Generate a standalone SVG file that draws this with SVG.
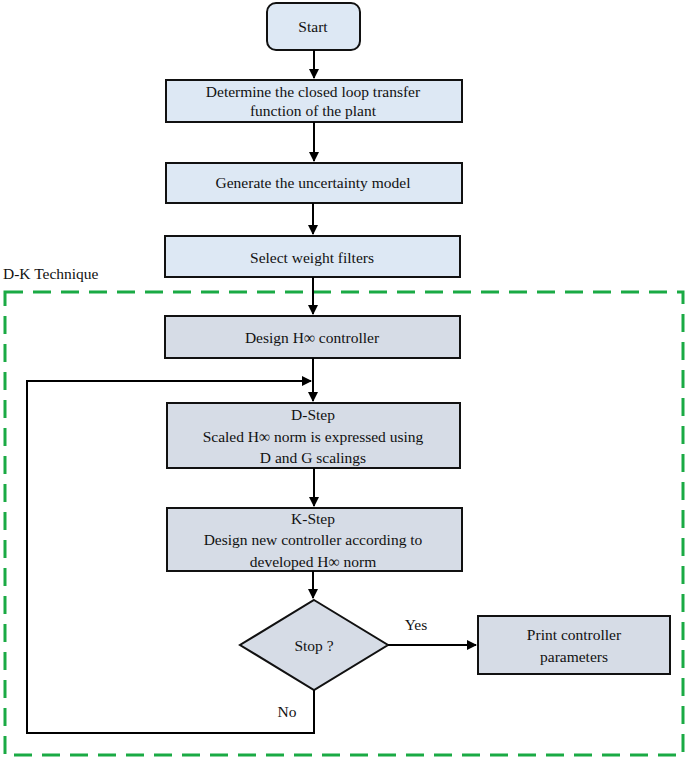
<svg xmlns="http://www.w3.org/2000/svg" width="685" height="758" viewBox="0 0 685 758">
<defs>
<style>
text{font-family:"Liberation Serif","Times New Roman",serif;font-size:15.5px;fill:#111;text-anchor:middle}
.b{fill:#dde8f4;stroke:#111;stroke-width:2}
.g{fill:#d6dce6;stroke:#111;stroke-width:2}
.c{fill:none;stroke:#000;stroke-width:2}
</style>
<marker id="a" viewBox="0 0 10 10" refX="9" refY="5" markerWidth="5" markerHeight="5" orient="auto"><path d="M0,0L10,5L0,10z" fill="#000"/></marker>
</defs>
<rect x="5" y="292" width="678" height="463" fill="none" stroke="#1aaa44" stroke-width="3" stroke-dasharray="18,10"/>
<text x="3" y="279" style="text-anchor:start">D-K Technique</text>
<g id="start"><rect class="b" x="267" y="3" width="93" height="47" rx="9"/><text x="313" y="32">Start</text></g>
<g id="n1"><rect class="b" x="166" y="80" width="296" height="42"/><text x="313" y="97">Determine the closed loop transfer</text><text x="313" y="116">function of the plant</text></g>
<g id="n2"><rect class="b" x="166" y="163" width="296" height="40"/><text x="313" y="188">Generate the uncertainty model</text></g>
<g id="n3"><rect class="b" x="165" y="236" width="295" height="41"/><text x="312" y="263">Select weight filters</text></g>
<g id="n4"><rect class="g" x="165" y="316" width="295" height="42"/><text x="312" y="343">Design H∞ controller</text></g>
<g id="n5"><rect class="g" x="167" y="403" width="293" height="65"/><text x="313" y="420">D-Step</text><text x="313" y="442">Scaled H∞ norm is expressed using</text><text x="313" y="463">D and G scalings</text></g>
<g id="n6"><rect class="g" x="167" y="508" width="295" height="63"/><text x="313" y="524">K-Step</text><text x="313" y="545">Design new controller according to</text><text x="313" y="567">developed H∞ norm</text></g>
<g id="n7"><polygon class="g" points="314,600 388,645 314,690 240,645"/><text x="314" y="651">Stop ?</text></g>
<g id="n8"><rect class="g" x="478" y="616" width="192" height="58"/><text x="574" y="640">Print controller</text><text x="574" y="662">parameters</text></g>
<g id="connectors">
<path class="c" d="M314,50V78" marker-end="url(#a)"/>
<path class="c" d="M314,122V161" marker-end="url(#a)"/>
<path class="c" d="M313,203V234" marker-end="url(#a)"/>
<path class="c" d="M313,277V314" marker-end="url(#a)"/>
<path class="c" d="M313,358V401" marker-end="url(#a)"/>
<path class="c" d="M314,468V506" marker-end="url(#a)"/>
<path class="c" d="M313,571V598" marker-end="url(#a)"/>
<path class="c" d="M388,645H476" marker-end="url(#a)"/>
<path class="c" d="M314,690V733H27V381H311" marker-end="url(#a)"/>
<text x="416" y="630">Yes</text>
<text x="287" y="717">No</text>
</g>
</svg>
